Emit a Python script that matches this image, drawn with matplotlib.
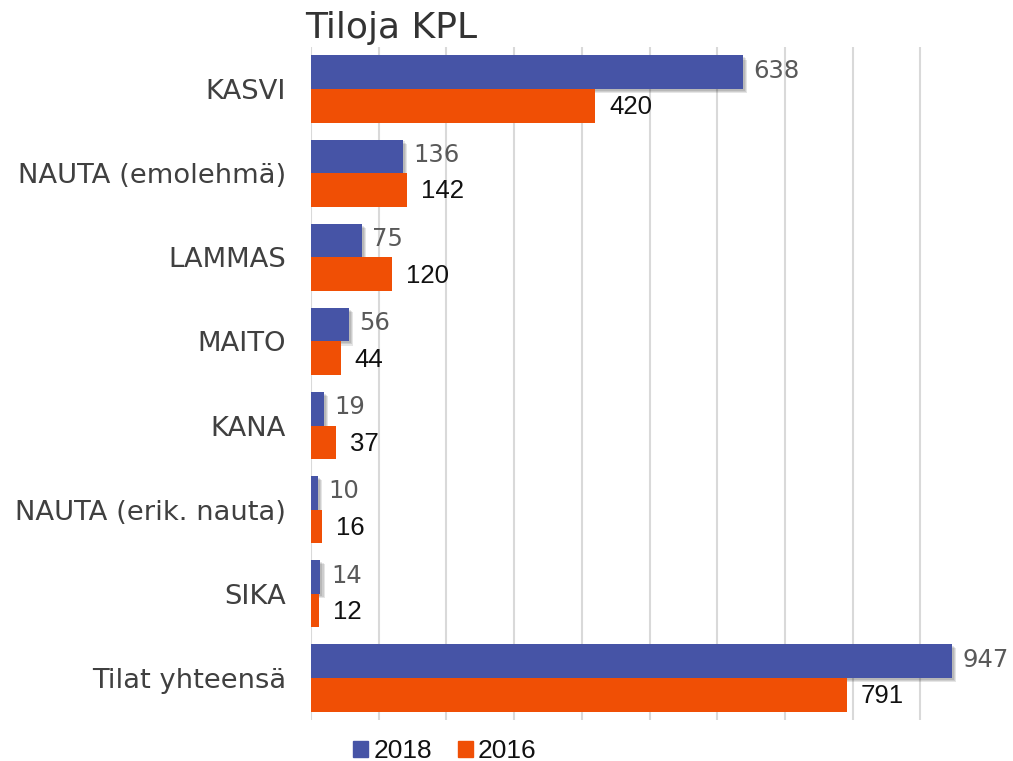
import matplotlib
matplotlib.use("Agg")
import matplotlib.pyplot as plt
import matplotlib.patheffects as pe
from matplotlib.patches import Patch
import numpy as np

categories = ["KASVI", "NAUTA (emolehmä)", "LAMMAS", "MAITO", "KANA",
              "NAUTA (erik. nauta)", "SIKA", "Tilat yhteensä"]
values_2018 = [638, 136, 75, 56, 19, 10, 14, 947]
values_2016 = [420, 142, 120, 44, 37, 16, 12, 791]
series_labels = ["2018", "2016"]
title = "Tiloja KPL"

c2018 = "#4654A6"
c2016 = "#F04F05"

fig = plt.figure(figsize=(10.13, 7.61), dpi=100)
xmax = 1000
ax = fig.add_axes([311/1013, 1-720/761, (0.677*xmax)/1013, (720-47)/761])

y = np.arange(len(categories))
h = 0.40
b1 = ax.barh(y - h/2, values_2018, height=h, color=c2018, zorder=3)
b2 = ax.barh(y + h/2, values_2016, height=h, color=c2016, zorder=3)
shadow = [pe.SimplePatchShadow(offset=(o, -o), alpha=0.10, shadow_rgbFace="#000000")
          for o in (3.0, 2.2, 1.4)]
for r in b1:
    r.set_path_effects(shadow + [pe.Normal()])

ax.set_xlim(0, xmax)
ax.set_ylim(len(categories) - 0.5, -0.5)
ax.set_xticks(np.arange(0, 1000, 100))
ax.xaxis.grid(True, color="#D9D9D9", linewidth=1.5, zorder=0)
ax.set_axisbelow(True)
ax.tick_params(axis="x", length=0, labelbottom=False)
ax.tick_params(axis="y", length=0, pad=18)
ax.set_yticks(y)
ax.set_yticklabels(categories, fontsize=19.7, color="#404040", family="DejaVu Sans")
for s in ax.spines.values():
    s.set_visible(False)

for yi, v in zip(y, values_2018):
    ax.annotate(str(v), (v, yi - h/2), xytext=(7.5, 1), textcoords="offset points",
                va="center", ha="left", fontsize=17.5, color="#595959", family="DejaVu Sans")
for yi, v in zip(y, values_2016):
    ax.annotate(str(v), (v, yi + h/2), xytext=(10, -1), textcoords="offset points",
                va="center", ha="left", fontsize=18.5, color="#111111", family="Liberation Sans")

fig.text(305/1013, 1-28/761, title, fontsize=26, color="#333333", family="DejaVu Sans",
         ha="left", va="center")

handles = [Patch(color=c2018), Patch(color=c2016)]
leg = fig.legend(handles=handles, labels=series_labels, loc="center",
                 bbox_to_anchor=(445/1013, 1-751/761), ncol=2, frameon=False,
                 handlelength=0.55, handleheight=0.55, handletextpad=0.2,
                 columnspacing=1.0, prop={"family": "Liberation Sans", "size": 19})
for t in leg.get_texts():
    t.set_color("#111111")

fig.savefig("out.png", dpi=100)
